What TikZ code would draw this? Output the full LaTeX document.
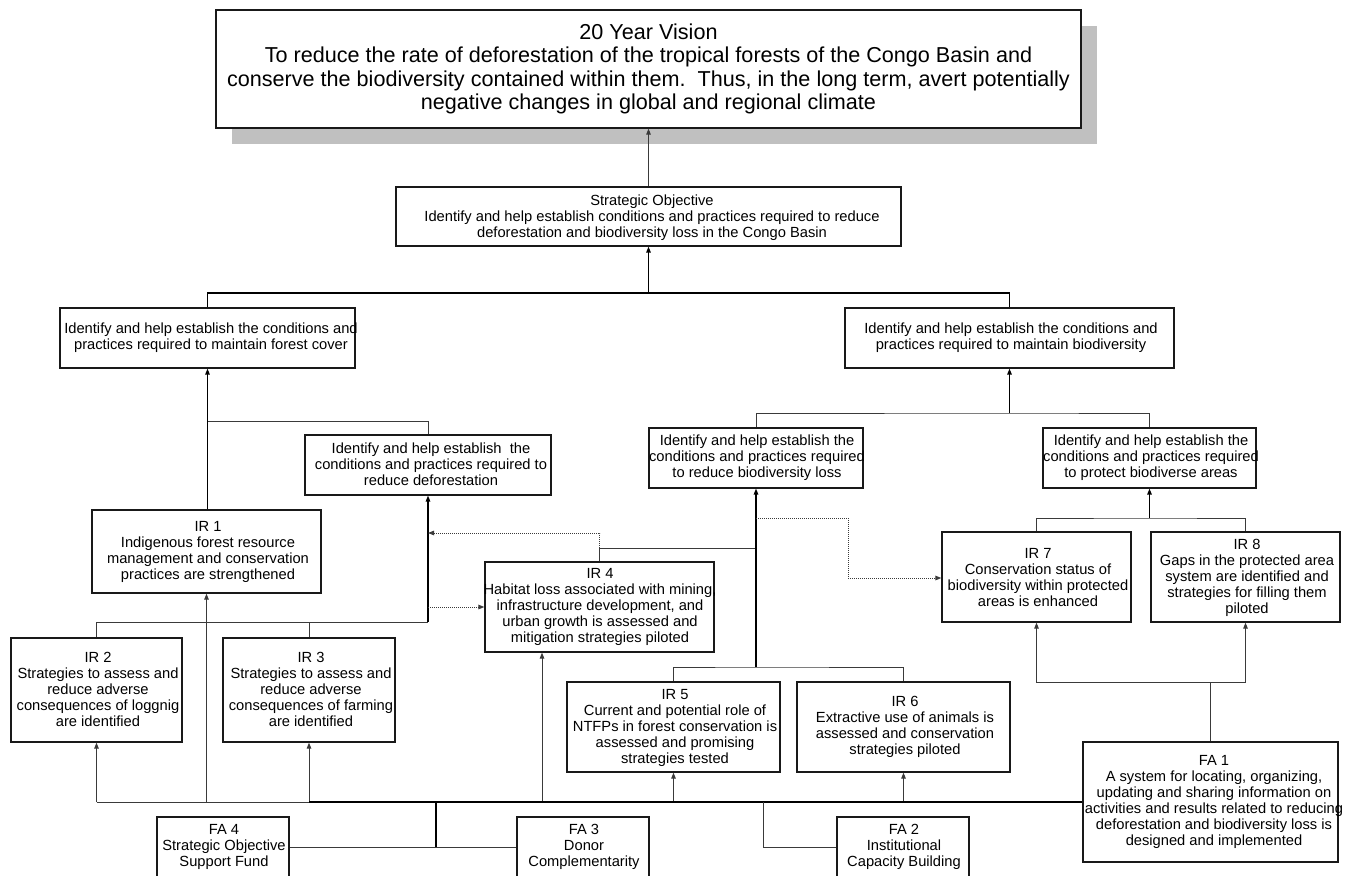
\documentclass[tikz,border=0pt]{standalone}
\usepackage{fontspec}
\setmainfont{Liberation Sans}
\usetikzlibrary{arrows.meta}
\definecolor{shadowgray}{HTML}{C0C0C0}
\definecolor{linegray}{HTML}{3A3A3A}
\begin{document}
\begin{tikzpicture}[x=1pt,y=-1pt,
  box/.style={draw=black!90,line width=1.2pt,fill=white,inner sep=0pt},
  txt/.style={align=center,inner sep=0pt,font=\fontsize{14.7}{16}\selectfont},
  bigtxt/.style={align=center,inner sep=0pt,font=\fontsize{21.6}{23.6}\selectfont},
  conn/.style={draw=linegray,line width=1pt},
  darkconn/.style={draw=black,line width=1.3pt},
  arr/.style={conn,-{Triangle[length=6pt,width=4.5pt]}},
  darkarr/.style={darkconn,-{Triangle[length=6pt,width=4.5pt]}},
  dotarr/.style={draw=linegray,line width=1pt,dash pattern=on 1pt off 1pt,-{Triangle[length=6pt,width=4.5pt]}},
  dotline/.style={draw=linegray,line width=1pt,dash pattern=on 1pt off 1pt},
  bus/.style={draw=black,line width=2.4pt}]
\useasboundingbox[fill=white] (0,0) rectangle (1359,875);

% shadow and vision
\fill[shadowgray] (232,26) rectangle (1097,144);
\node[box,minimum width=865pt,minimum height=118pt] (vision) at (648.5,69) {};
\node[bigtxt] (visiont) at (648.5,69) {20 Year Vision\\To reduce the rate of deforestation of the tropical forests of the Congo Basin and\\conserve the biodiversity contained within them.\ \ Thus, in the long term, avert potentially\\negative changes in global and regional climate};

\node[box,minimum width=505pt,minimum height=59pt] (so) at (648.5,216.5) {};
\node[txt] (sot) at (652,218) {Strategic Objective\\Identify and help establish conditions and practices required to reduce\\deforestation and biodiversity loss in the Congo Basin};

\node[box,minimum width=295pt,minimum height=60pt] (forest) at (207.5,338) {};
\node[txt] (forestt) at (211,337.5) {Identify and help establish the conditions and\\practices required to maintain forest cover};

\node[box,minimum width=329pt,minimum height=60pt] (biodiv) at (1009.5,338) {};
\node[txt] (biodivt) at (1011,337.5) {Identify and help establish the conditions and\\practices required to maintain biodiversity};

\node[box,minimum width=246pt,minimum height=60pt] (defor) at (428,465) {};
\node[txt] (defort) at (431,464) {Identify and help establish\ \ the\\conditions and practices required to\\reduce deforestation};

\node[box,minimum width=214pt,minimum height=60pt] (bloss) at (756,458) {};
\node[txt] (blosst) at (757,458) {Identify and help establish the\\conditions and practices required\\to reduce biodiversity loss};

\node[box,minimum width=213pt,minimum height=60pt] (protect) at (1149.5,458) {};
\node[txt] (protectt) at (1151,458) {Identify and help establish the\\conditions and practices required\\to protect biodiverse areas};

\node[box,minimum width=229pt,minimum height=83pt] (ir1) at (206.5,551.5) {};
\node[txt] (ir1t) at (208,551.5) {IR 1\\Indigenous forest resource\\management and conservation\\practices are strengthened};

\node[box,minimum width=229pt,minimum height=90pt] (ir4) at (599.5,607) {};
\node[txt] (ir4t) at (600,607) {IR 4\\Habitat loss associated with mining,\\infrastructure development, and\\urban growth is assessed and\\mitigation strategies piloted};

\node[box,minimum width=189pt,minimum height=90pt] (ir7) at (1036.5,577) {};
\node[txt] (ir7t) at (1038,577.5) {IR 7\\Conservation status of\\biodiversity within protected\\areas is enhanced};

\node[box,minimum width=189pt,minimum height=90pt] (ir8) at (1245.5,577) {};
\node[txt] (ir8t) at (1247,578) {IR 8\\Gaps in the protected area\\system are identified and\\strategies for filling them\\piloted};

\node[box,minimum width=171pt,minimum height=104pt] (ir2) at (96.5,690) {};
\node[txt] (ir2t) at (98,689.5) {IR 2\\Strategies to assess and\\reduce adverse\\consequences of loggnig\\are identified};

\node[box,minimum width=172pt,minimum height=104pt] (ir3) at (309,690) {};
\node[txt] (ir3t) at (311,689.5) {IR 3\\Strategies to assess and\\reduce adverse\\consequences of farming\\are identified};

\node[box,minimum width=213pt,minimum height=90pt] (ir5) at (673.5,727) {};
\node[txt] (ir5t) at (675,727.5) {IR 5\\Current and potential role of\\NTFPs in forest conservation is\\assessed and promising\\strategies tested};

\node[box,minimum width=213pt,minimum height=90pt] (ir6) at (903.5,727) {};
\node[txt] (ir6t) at (905,727) {IR 6\\Extractive use of animals is\\assessed and conservation\\strategies piloted};

\node[box,minimum width=255pt,minimum height=120pt] (fa1) at (1210.5,802) {};
\node[txt] (fa1t) at (1214,802) {FA 1\\A system for locating, organizing,\\updating and sharing information on\\activities and results related to reducing\\deforestation and biodiversity loss is\\designed and implemented};

\node[box,minimum width=132pt,minimum height=60pt] (fa4) at (223,847) {};
\node[txt] (fa4t) at (224,847) {FA 4\\Strategic Objective\\Support Fund};

\node[box,minimum width=132pt,minimum height=60pt] (fa3) at (583,847) {};
\node[txt] (fa3t) at (584,847) {FA 3\\Donor\\Complementarity};

\node[box,minimum width=132pt,minimum height=60pt] (fa2) at (903,847) {};
\node[txt] (fa2t) at (904,847) {FA 2\\Institutional\\Capacity Building};

% ---- connectors ----
\draw[arr] (so.north) -- (vision.south);

\coordinate (jso) at (648.5,293);
\draw[darkconn] (forest.north) |- (jso) -| (biodiv.north);
\draw[darkarr] (jso) -- (so.south);

\coordinate (jfo) at (207.5,421);
\draw[darkarr] (ir1.north -| jfo) -- (jfo |- forest.south);
\draw[conn] (defor.north) |- (jfo);

\coordinate (jd) at (428,622);
\draw[conn] (ir2.north) |- (jd);
\draw[conn] (ir3.north) -- (ir3.north |- jd);
\draw[darkarr] (jd) -- (defor.south);

\coordinate (j4) at (599.5,548);
\coordinate (d1) at (428,533);
\draw[conn] (ir4.north) -- (j4) -- (756,548);
\draw[dotarr] (j4) |- (d1);
\coordinate (d2) at (428,607);
\draw[dotarr] (d2) -- (ir4.west);

\coordinate (jb) at (756,667);
\draw[conn] (ir5.north) |- (jb) -| (ir6.north);
\draw[darkarr] (jb) -- (bloss.south);

\coordinate (d3) at (756,518);
\coordinate (d4) at (848,578);
\draw[dotline] (d3) -| (d4);
\draw[dotarr] (d4) -- (d4 -| ir7.west);

\coordinate (jbd) at (1009.5,413);
\draw[conn] (bloss.north) |- (jbd) -| (protect.north);
\draw[darkarr] (jbd) -- (biodiv.south);

\coordinate (jp) at (1149.5,518);
\draw[conn] (ir7.north) |- (jp) -| (ir8.north);
\draw[darkarr] (jp) -- (protect.south);

\coordinate (jf) at (1210.5,682);
\draw[conn] (fa1.north) -- (jf);
\draw[arr] (jf) -| (ir7.south);
\draw[arr] (jf) -| (ir8.south);

% bus
\coordinate (bus) at (309,802);
\coordinate (b4) at (542,802);
\coordinate (bf) at (436,802);
\coordinate (b2) at (763,802);
\draw[conn] (ir2.south |- bus) -- (bus);
\draw[arr] (ir2.south |- bus) -- (ir2.south);
\draw[arr] (ir1.south |- bus) -- (ir1.south);
\draw[arr] (bus) -- (ir3.south);
\draw[arr] (b4) -- (b4 |- ir4.south);
\draw[arr] (ir5.south |- bus) -- (ir5.south);
\draw[arr] (ir6.south |- bus) -- (ir6.south);
\draw[bus] (bus) -- (fa1.west);
\draw[bus] (bf) -- (bf |- fa4.east);
\draw[conn] (fa4.east) -- (fa3.west);
\draw[conn] (fa2.west) -| (b2);
\end{tikzpicture}
\end{document}
